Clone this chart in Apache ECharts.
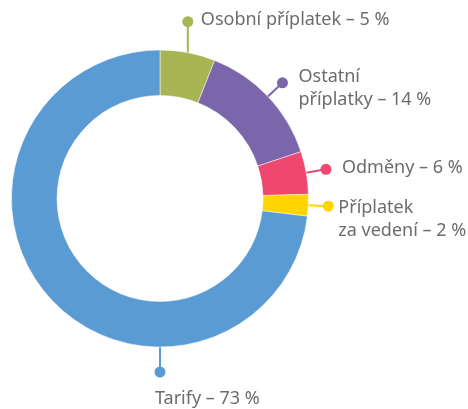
<!DOCTYPE html>
<html>
<head>
<meta charset="utf-8">
<script src="https://cdn.jsdelivr.net/npm/echarts@6/dist/echarts.min.js"></script>
<style>
  html, body { margin: 0; padding: 0; background: #fff; }
  #chart { width: 468px; height: 409px; }
</style>
</head>
<body>
<div id="chart"></div>
<script>
// clockwise from 12 o'clock
const categories = ["Osobní příplatek", "Ostatní\npříplatky", "Odměny", "Příplatek\nza vedení", "Tarify"];
const labelPercents = [5, 14, 6, 2, 73];
const shares = [6.0, 13.9, 4.65, 2.35, 73.1];
const colors = ["#a8b553", "#7c66ab", "#ee4870", "#ffd500", "#5b9bd3"];

const cx = 160, cy = 198.5, rIn = 103, rOut = 148.5;

// leader line per slice: angle (null = slice middle), and either radial length or fixed dx/dy
const leaders = [
  { angle: null, dx: 0, dy: -31 },
  { angle: null, len: 20 },
  { angle: null, len: 20 },
  { angle: null, len: 20 },
  { angle: 180, dx: 0, dy: 25 }
];
// text placement relative to the dot
const textPlace = [
  { dx: 13, dy: -2, va: "middle", align: "left" },
  { dx: 16, dy: -17.5, va: "top", align: "left" },
  { dx: 16, dy: -1, va: "middle", align: "left" },
  { dx: 10, dy: -9.5, va: "top", align: "left" },
  { dx: -5, dy: 27, va: "middle", align: "left" }
];

const total = shares.reduce((a, b) => a + b, 0);
const midAngles = [];
let acc = 0;
shares.forEach(v => {
  midAngles.push((acc + v / 2) / total * 360);
  acc += v;
});

function geom(i) {
  const l = leaders[i];
  const ang = (l.angle == null ? midAngles[i] : l.angle) * Math.PI / 180;
  const sx = cx + rOut * Math.sin(ang), sy = cy - rOut * Math.cos(ang);
  let ex, ey;
  if (l.len != null) {
    ex = cx + (rOut + l.len) * Math.sin(ang);
    ey = cy - (rOut + l.len) * Math.cos(ang);
  } else {
    ex = sx + l.dx;
    ey = sy + l.dy;
  }
  return { sx, sy, ex, ey };
}

const chart = echarts.init(document.getElementById("chart"));
chart.setOption({
  backgroundColor: "#fff",
  animation: false,
  series: [
    {
      type: "pie",
      center: [cx, cy],
      radius: [rIn, rOut],
      startAngle: 90,
      clockwise: true,
      avoidLabelOverlap: false,
      silent: true,
      itemStyle: { borderColor: "#fff", borderWidth: 0.5 },
      label: {
        show: true,
        position: "outside",
        color: "#6c6c6c",
        fontFamily: "Noto Sans",
        fontSize: 18,
        lineHeight: 23,
        formatter: p => p.name + " – " + labelPercents[p.dataIndex] + " %"
      },
      labelLine: { show: true, lineStyle: { width: 2 } },
      labelLayout: p => {
        const g = geom(p.dataIndex);
        const t = textPlace[p.dataIndex];
        return {
          x: g.ex + t.dx,
          y: g.ey + t.dy,
          align: t.align,
          verticalAlign: t.va,
          labelLinePoints: [[g.sx, g.sy], [g.ex, g.ey], [g.ex, g.ey]]
        };
      },
      data: categories.map((name, i) => ({
        name, value: shares[i], itemStyle: { color: colors[i] }
      }))
    },
    {
      type: "pie",
      center: [cx, cy],
      radius: [rIn, rOut],
      startAngle: 90,
      clockwise: true,
      avoidLabelOverlap: false,
      silent: true,
      z: 3,
      itemStyle: { color: "transparent" },
      label: { show: true, position: "outside", formatter: "{dot|}" },
      labelLine: { show: false },
      labelLayout: p => {
        const g = geom(p.dataIndex);
        return { x: g.ex, y: g.ey, align: "center", verticalAlign: "middle" };
      },
      data: categories.map((name, i) => ({
        name, value: shares[i],
        label: { rich: { dot: { width: 11, height: 11, borderRadius: 5.5, backgroundColor: colors[i] } } }
      }))
    }
  ]
});
</script>
</body>
</html>
